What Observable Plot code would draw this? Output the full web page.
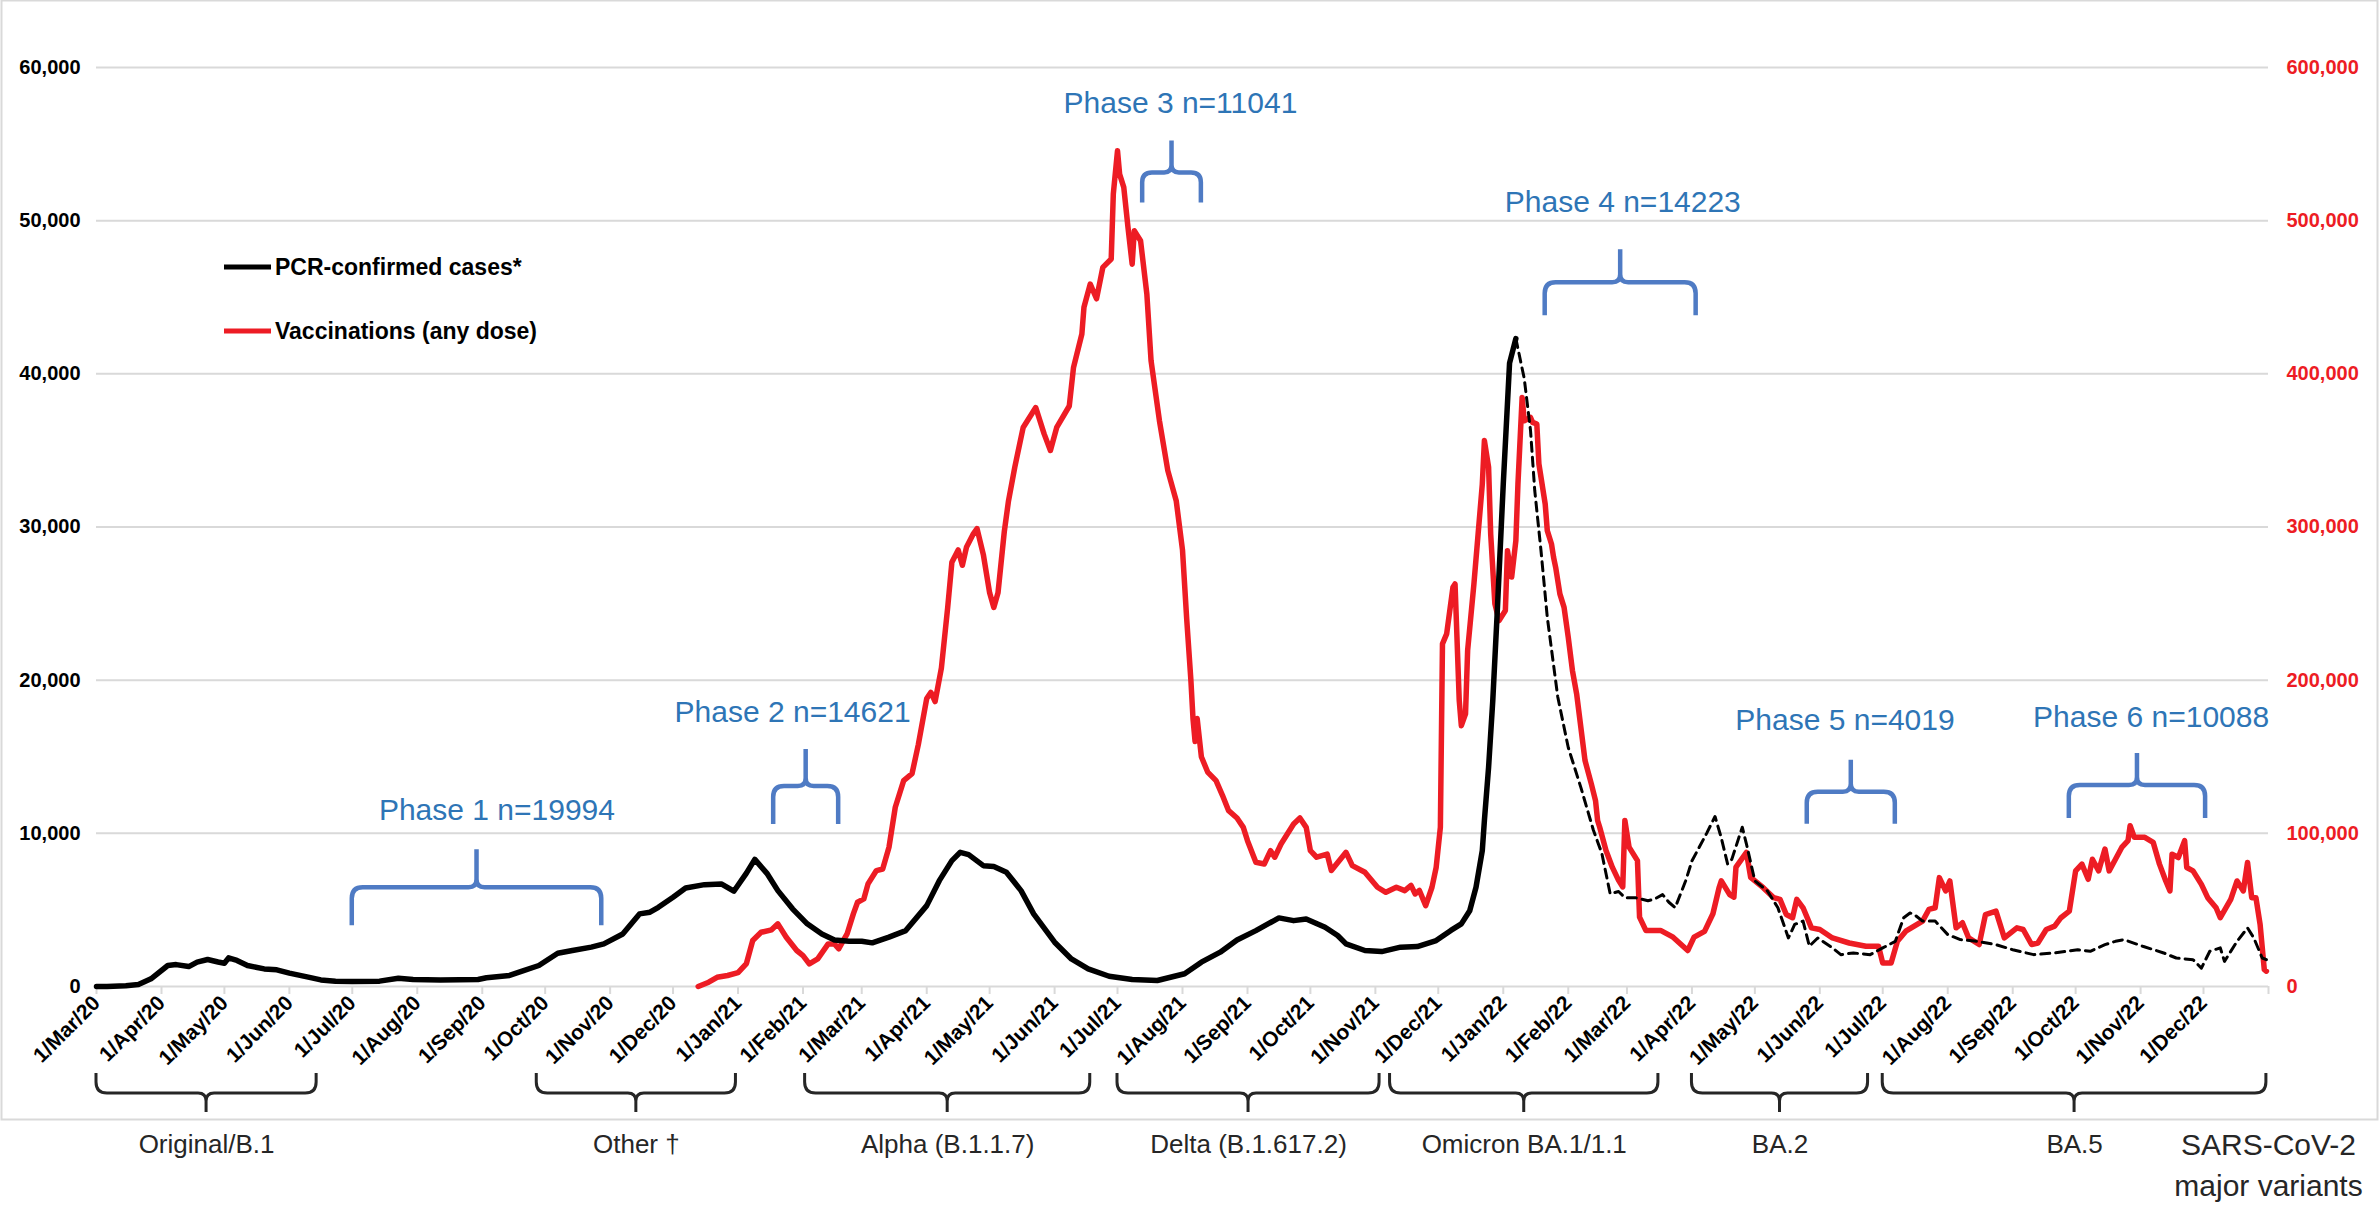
<!DOCTYPE html>
<html>
<head>
<meta charset="utf-8">
<script src="https://cdn.jsdelivr.net/npm/d3@7"></script>
<script src="https://cdn.jsdelivr.net/npm/@observablehq/plot@0.6"></script>
<style>
  html, body { margin: 0; padding: 0; background: #ffffff; }
  #chart svg { display: block; }
</style>
</head>
<body>
<div id="chart"></div>
<script>
// ---------------- DATA ----------------
// PCR-confirmed cases (7-day average), solid part (left axis)
const caseDates = ["2020-03-01","2020-03-06","2020-03-15","2020-03-21","2020-03-27","2020-04-04","2020-04-08","2020-04-14","2020-04-18","2020-04-23","2020-04-28","2020-05-01","2020-05-03","2020-05-07","2020-05-12","2020-05-20","2020-05-26","2020-06-01","2020-06-10","2020-06-16","2020-06-23","2020-07-01","2020-07-14","2020-07-23","2020-07-30","2020-08-12","2020-08-30","2020-09-03","2020-09-14","2020-09-20","2020-09-28","2020-10-07","2020-10-14","2020-10-23","2020-10-29","2020-11-07","2020-11-15","2020-11-20","2020-11-24","2020-12-01","2020-12-07","2020-12-16","2020-12-24","2020-12-30","2021-01-05","2021-01-09","2021-01-15","2021-01-20","2021-01-27","2021-02-03","2021-02-10","2021-02-16","2021-02-23","2021-03-01","2021-03-06","2021-03-14","2021-03-22","2021-04-01","2021-04-07","2021-04-13","2021-04-17","2021-04-21","2021-04-28","2021-05-03","2021-05-09","2021-05-16","2021-05-22","2021-06-01","2021-06-09","2021-06-17","2021-06-27","2021-07-08","2021-07-20","2021-08-02","2021-08-10","2021-08-19","2021-08-27","2021-09-05","2021-09-16","2021-09-23","2021-09-29","2021-10-08","2021-10-14","2021-10-18","2021-10-27","2021-11-04","2021-11-13","2021-11-21","2021-11-30","2021-12-07","2021-12-12","2021-12-16","2021-12-19","2021-12-22","2021-12-23","2021-12-25","2021-12-27","2021-12-29","2022-01-01","2022-01-04","2022-01-07"];
const caseValues = [0,0,50,130,500,1370,1430,1300,1590,1760,1600,1520,1870,1700,1370,1150,1090,870,610,430,350,330,350,540,460,430,460,570,720,1000,1370,2170,2350,2570,2780,3430,4740,4850,5170,5830,6430,6650,6700,6220,7400,8300,7350,6260,5070,4090,3430,3040,2960,2960,2850,3220,3650,5280,6910,8220,8760,8610,7890,7830,7460,6260,4740,2890,1800,1150,670,460,390,830,1590,2240,3040,3650,4480,4300,4410,3870,3330,2780,2350,2280,2570,2610,3000,3660,4090,4950,6480,8880,10840,14310,18670,24100,32800,40700,42300];

// PCR-confirmed cases, dashed part (after the Omicron peak)
const caseDashDates = ["2022-01-07","2022-01-11","2022-01-14","2022-01-16","2022-01-19","2022-01-22","2022-01-27","2022-02-01","2022-02-07","2022-02-13","2022-02-17","2022-02-21","2022-02-25","2022-02-28","2022-03-05","2022-03-11","2022-03-14","2022-03-18","2022-03-21","2022-03-24","2022-03-29","2022-04-01","2022-04-08","2022-04-12","2022-04-15","2022-04-18","2022-04-20","2022-04-25","2022-04-27","2022-05-01","2022-05-07","2022-05-12","2022-05-17","2022-05-20","2022-05-24","2022-05-27","2022-05-31","2022-06-07","2022-06-11","2022-06-17","2022-06-25","2022-07-01","2022-07-07","2022-07-11","2022-07-14","2022-07-16","2022-07-20","2022-07-26","2022-08-01","2022-08-07","2022-08-15","2022-08-24","2022-09-01","2022-09-11","2022-09-21","2022-10-02","2022-10-08","2022-10-15","2022-10-20","2022-10-24","2022-11-02","2022-11-12","2022-11-18","2022-11-26","2022-11-30","2022-12-04","2022-12-09","2022-12-11","2022-12-17","2022-12-22","2022-12-25","2022-12-29","2022-12-31"];
const caseDashValues = [42300,39700,36300,32400,28450,24100,18900,15600,13000,10200,8700,6050,6200,5800,5800,5600,5700,6000,5500,5150,6900,8200,10000,11100,9700,8000,8300,10400,9300,6900,6240,5140,3170,4050,4270,2630,3170,2520,2080,2190,2080,2520,2950,4490,4800,4700,4270,4270,3390,3060,2950,2735,2400,2080,2190,2400,2300,2735,2950,3060,2630,2190,1860,1750,1200,2300,2520,1640,2950,3830,3170,1860,1750];

// Vaccinations, any dose (right axis)
const vaccDates = ["2020-12-13","2020-12-18","2020-12-22","2020-12-27","2021-01-01","2021-01-05","2021-01-08","2021-01-12","2021-01-17","2021-01-20","2021-01-24","2021-01-29","2021-02-01","2021-02-04","2021-02-08","2021-02-13","2021-02-16","2021-02-18","2021-02-22","2021-02-25","2021-02-27","2021-03-02","2021-03-04","2021-03-08","2021-03-11","2021-03-14","2021-03-17","2021-03-21","2021-03-25","2021-03-28","2021-04-01","2021-04-03","2021-04-05","2021-04-08","2021-04-11","2021-04-13","2021-04-16","2021-04-18","2021-04-20","2021-04-23","2021-04-25","2021-04-28","2021-05-01","2021-05-03","2021-05-05","2021-05-08","2021-05-10","2021-05-13","2021-05-17","2021-05-23","2021-05-27","2021-05-30","2021-06-02","2021-06-08","2021-06-10","2021-06-14","2021-06-15","2021-06-18","2021-06-21","2021-06-24","2021-06-28","2021-06-29","2021-07-01","2021-07-02","2021-07-04","2021-07-06","2021-07-08","2021-07-09","2021-07-12","2021-07-15","2021-07-17","2021-07-21","2021-07-25","2021-07-29","2021-08-01","2021-08-03","2021-08-05","2021-08-06","2021-08-07","2021-08-08","2021-08-10","2021-08-13","2021-08-17","2021-08-20","2021-08-23","2021-08-27","2021-08-30","2021-09-01","2021-09-05","2021-09-09","2021-09-12","2021-09-14","2021-09-17","2021-09-23","2021-09-26","2021-09-29","2021-10-01","2021-10-04","2021-10-09","2021-10-11","2021-10-18","2021-10-21","2021-10-27","2021-11-02","2021-11-06","2021-11-11","2021-11-15","2021-11-18","2021-11-20","2021-11-22","2021-11-25","2021-11-28","2021-11-30","2021-12-02","2021-12-03","2021-12-05","2021-12-08","2021-12-09","2021-12-11","2021-12-12","2021-12-14","2021-12-15","2021-12-18","2021-12-20","2021-12-22","2021-12-23","2021-12-25","2021-12-26","2021-12-28","2021-12-30","2022-01-02","2022-01-03","2022-01-05","2022-01-07","2022-01-08","2022-01-10","2022-01-11","2022-01-14","2022-01-15","2022-01-17","2022-01-18","2022-01-21","2022-01-22","2022-01-24","2022-01-25","2022-01-26","2022-01-28","2022-01-30","2022-02-01","2022-02-03","2022-02-05","2022-02-09","2022-02-12","2022-02-14","2022-02-15","2022-02-16","2022-02-19","2022-02-22","2022-02-25","2022-02-27","2022-02-28","2022-03-02","2022-03-06","2022-03-07","2022-03-10","2022-03-17","2022-03-23","2022-03-30","2022-04-02","2022-04-07","2022-04-11","2022-04-14","2022-04-15","2022-04-19","2022-04-21","2022-04-22","2022-04-27","2022-04-29","2022-05-05","2022-05-10","2022-05-13","2022-05-16","2022-05-19","2022-05-21","2022-05-24","2022-05-28","2022-06-01","2022-06-07","2022-06-15","2022-06-23","2022-06-29","2022-07-01","2022-07-05","2022-07-08","2022-07-12","2022-07-16","2022-07-20","2022-07-23","2022-07-26","2022-07-28","2022-07-31","2022-08-02","2022-08-05","2022-08-08","2022-08-11","2022-08-16","2022-08-19","2022-08-24","2022-08-28","2022-09-03","2022-09-06","2022-09-10","2022-09-13","2022-09-17","2022-09-21","2022-09-24","2022-09-28","2022-10-01","2022-10-04","2022-10-07","2022-10-09","2022-10-12","2022-10-15","2022-10-17","2022-10-20","2022-10-23","2022-10-26","2022-10-27","2022-10-29","2022-11-03","2022-11-07","2022-11-10","2022-11-13","2022-11-15","2022-11-16","2022-11-19","2022-11-22","2022-11-23","2022-11-26","2022-11-30","2022-12-03","2022-12-07","2022-12-09","2022-12-14","2022-12-17","2022-12-20","2022-12-22","2022-12-24","2022-12-26","2022-12-28","2022-12-30","2022-12-31"];
const vaccValues = [0,2800,6000,7200,9000,15000,30000,35400,37000,40900,32200,23500,20200,14800,18000,27800,27800,24600,34300,47400,55000,57200,67000,75700,76700,90900,117000,134400,139000,158000,188000,192000,186000,208000,247500,277000,285000,275000,287000,295000,299000,282000,257000,247500,257000,297000,317000,339000,365000,378000,360800,350000,365000,379000,404000,426000,443500,458600,449000,469500,475000,517400,545600,530400,521700,495600,471600,493400,486900,452000,408600,369400,336800,317200,285000,240000,200000,175000,160000,175000,150000,140000,134400,125000,114800,110000,103900,95200,81100,80000,88700,84400,93000,106100,110000,103900,88700,84400,86500,75700,87600,78900,74600,64800,61500,64800,62600,66000,60400,62700,52800,64800,77800,104000,223700,230200,260700,262800,186700,170300,178000,219300,262800,295400,328000,356400,339000,295400,249800,238900,245500,284500,267300,291000,328000,384600,369400,371500,368300,367200,341100,315000,297600,288900,280200,273600,256300,247500,228000,206200,191000,147500,132300,121400,108400,104000,88800,77900,69300,65000,108400,91000,82200,45300,36600,36600,32200,23500,32200,36000,47500,64800,69000,60000,58300,78000,87500,71300,64500,58000,56900,47000,44900,56900,51400,38300,37200,31700,28400,26300,26300,15300,15300,29500,36100,39400,42700,50300,51400,71100,62400,68900,38300,41600,31700,27400,47000,49200,31700,38300,37200,27400,28400,37200,39400,44900,49200,75500,79900,70000,83100,75500,89700,75500,83100,90800,95200,105000,97400,97400,94100,79900,68900,62400,86400,84200,95200,77700,75500,66700,58000,51400,44900,56900,68900,62400,81000,58000,58000,40500,11000,10000];

// Axis ticks
const leftTicks = [0, 10000, 20000, 30000, 40000, 50000, 60000];
const rightTicks = [0, 100000, 200000, 300000, 400000, 500000, 600000];

// Legend
const legendNames = ["PCR-confirmed cases*", "Vaccinations (any dose)"];

// Study phases
const phaseNames = ["Phase 1 n=19994", "Phase 2 n=14621", "Phase 3 n=11041", "Phase 4 n=14223", "Phase 5 n=4019", "Phase 6 n=10088"];
const phaseStart = ["2020-07-01", "2021-01-18", "2021-07-13", "2022-01-21", "2022-05-26", "2022-09-28"];
const phaseEnd   = ["2020-10-28", "2021-02-18", "2021-08-10", "2022-04-03", "2022-07-07", "2022-12-02"];

// SARS-CoV-2 major variant periods
const variantNames = ["Original/B.1", "Other \u2020", "Alpha (B.1.1.7)", "Delta (B.1.617.2)", "Omicron BA.1/1.1", "BA.2", "BA.5"];
const variantStart = ["2020-03-01", "2020-09-27", "2021-02-02", "2021-07-01", "2021-11-08", "2022-04-01", "2022-07-01"];
const variantEnd   = ["2020-06-14", "2020-12-31", "2021-06-18", "2021-11-03", "2022-03-16", "2022-06-24", "2022-12-31"];
const variantTitle = "SARS-CoV-2\nmajor variants";

// ---------------- BUILD ----------------
const parse = d3.utcParse("%Y-%m-%d");
const VACC_RATIO = 10; // right axis = 10 x left axis
const RED = "#ED1C24";
const BLUE_TEXT = "#2E75B6";
const BLUE_BRACE = "#4F7BC4";
const GRID = "#D9D9D9";
const DARK = "#262626";
const FONT = "'Liberation Sans', Arial, Helvetica, sans-serif";

const cases = caseDates.map((d, i) => ({date: parse(d), value: caseValues[i]}));
const casesDash = caseDashDates.map((d, i) => ({date: parse(d), value: caseDashValues[i]}));
const vacc = vaccDates.map((d, i) => ({date: parse(d), value: vaccValues[i]}));

const xStart = parse("2020-03-01");
const xEnd = parse("2023-01-01");
const monthTicks = d3.utcMonth.range(xStart, d3.utcDay.offset(xEnd, 1));
const monthFmt = d3.utcFormat("%b/%y");
const comma = d3.format(",");

// annotation layout (positions, not data)
const phaseLayout = {
  braceY: [6440, 13050, 53120, 45940, 12690, 13130],     // horizontal bar, in left-axis units
  legPx:  [38, 38, 30, 33, 32, 33],
  tipPx:  [38, 37, 32, 33, 32, 32],
  labelX: ["2020-09-08", "2021-01-27", "2021-07-31", "2022-02-27", "2022-06-13", "2022-11-06"],
  labelY: [11480, 17920, 57630, 51180, 17400, 17570]
};

function mid(a, b) { return new Date((a.getTime() + b.getTime()) / 2); }

function braceRender(starts, ends, yOf, legOf, tipOf, sign, color, width) {
  // sign = +1 : legs go down, tip goes up ; sign = -1 : legs up, tip down
  return (index, scales, values, dims) => {
    const g = d3.create("svg:g")
      .attr("fill", "none").attr("stroke", color).attr("stroke-width", width)
      .attr("stroke-linejoin", "round");
    starts.forEach((s, i) => {
      const x0 = scales.x(parse(s)), x1 = scales.x(parse(ends[i])), xm = (x0 + x1) / 2;
      const yH = yOf(i, scales, dims), L = legOf(i), T = tipOf(i);
      const r = Math.min(11, (x1 - x0) / 6), rt = Math.min(8, (x1 - x0) / 8);
      const p = d3.path();
      p.moveTo(x0, yH + sign * L);
      p.lineTo(x0, yH + sign * r);
      p.quadraticCurveTo(x0, yH, x0 + r, yH);
      p.lineTo(xm - rt, yH);
      p.quadraticCurveTo(xm, yH, xm, yH - sign * rt);
      p.lineTo(xm, yH - sign * T);
      p.moveTo(xm, yH - sign * rt);
      p.quadraticCurveTo(xm, yH, xm + rt, yH);
      p.lineTo(x1 - r, yH);
      p.quadraticCurveTo(x1, yH, x1, yH + sign * r);
      p.lineTo(x1, yH + sign * L);
      g.append("path").attr("d", p.toString());
    });
    return g.node();
  };
}

const frameRender = (index, scales, values, dims) => {
  const g = d3.create("svg:g");
  g.append("rect").attr("x", 1.5).attr("y", 0.5).attr("width", dims.width - 3).attr("height", 1119)
    .attr("fill", "none").attr("stroke", GRID).attr("stroke-width", 2);
  return g.node();
};

const legendRender = (index, scales, values, dims) => {
  const g = d3.create("svg:g");
  const colors = ["#000000", RED];
  const ys = [267, 331];
  legendNames.forEach((name, i) => {
    g.append("line").attr("x1", 224).attr("x2", 271).attr("y1", ys[i]).attr("y2", ys[i])
      .attr("stroke", colors[i]).attr("stroke-width", 5);
    g.append("text").attr("x", 275).attr("y", ys[i]).attr("dy", "0.36em")
      .attr("text-anchor", "start")
      .attr("font-family", FONT).attr("font-size", 23).attr("font-weight", "bold")
      .attr("fill", "#000").text(name);
  });
  return g.node();
};

const chart = Plot.plot({
  width: 2379,
  height: 1207,
  marginTop: 67,
  marginBottom: 221,
  marginLeft: 96,
  marginRight: 111,
  style: {fontFamily: FONT, background: "#ffffff", color: "#000"},
  x: {type: "utc", domain: [xStart, xEnd]},
  y: {domain: [0, 60000]},
  marks: [
    frameRender,
    Plot.gridY(leftTicks, {stroke: GRID, strokeOpacity: 1, strokeWidth: 2}),
    Plot.axisY(leftTicks, {anchor: "left", tickSize: 0, tickPadding: 16, tickFormat: comma,
      fontSize: 20, fontWeight: "bold", fill: "#000", label: null}),
    Plot.axisY(rightTicks.map(v => v / VACC_RATIO), {anchor: "right", tickSize: 0, tickPadding: 18,
      tickFormat: d => comma(d * VACC_RATIO), fontSize: 20, fontWeight: "bold", fill: RED, label: null}),
    Plot.axisX(monthTicks, {anchor: "bottom", tickSize: 8, tickPadding: 5, tickRotate: -45,
      tickFormat: d => (d >= xEnd ? "" : "1/" + monthFmt(d)),
      fontSize: 21, fontWeight: "bold", stroke: GRID, strokeWidth: 2, fill: "#000", label: null}),
    Plot.line(vacc, {x: "date", y: d => d.value / VACC_RATIO, stroke: RED, strokeWidth: 5.5,
      strokeLinejoin: "round", strokeLinecap: "round"}),
    Plot.line(cases, {x: "date", y: "value", stroke: "#000", strokeWidth: 5.5,
      strokeLinejoin: "round", strokeLinecap: "round"}),
    Plot.line(casesDash, {x: "date", y: "value", stroke: "#000", strokeWidth: 3,
      strokeDasharray: "9,6"}),
    // phase braces (tip up)
    braceRender(phaseStart, phaseEnd,
      (i, scales) => scales.y(phaseLayout.braceY[i]),
      i => phaseLayout.legPx[i], i => phaseLayout.tipPx[i], +1, BLUE_BRACE, 4.5),
    Plot.text(phaseNames, {x: (d, i) => parse(phaseLayout.labelX[i]), y: (d, i) => phaseLayout.labelY[i],
      text: d => d, fill: BLUE_TEXT, fontSize: 30}),
    // variant braces (tip down, below the axis)
    braceRender(variantStart, variantEnd,
      (i, scales, dims) => dims.height - dims.marginBottom + 107,
      () => 20, () => 19, -1, DARK, 3),
    Plot.text(variantNames, {x: (d, i) => mid(parse(variantStart[i]), parse(variantEnd[i])),
      frameAnchor: "bottom", dy: 166, text: d => d, fill: DARK, fontSize: 26}),
    Plot.text([variantTitle], {frameAnchor: "bottom-right", dy: 176, textAnchor: "middle",
      lineAnchor: "middle", lineHeight: 1.35, text: d => d, fill: DARK, fontSize: 30}),
    legendRender
  ]
});

document.getElementById("chart").appendChild(chart);
</script>
</body>
</html>
